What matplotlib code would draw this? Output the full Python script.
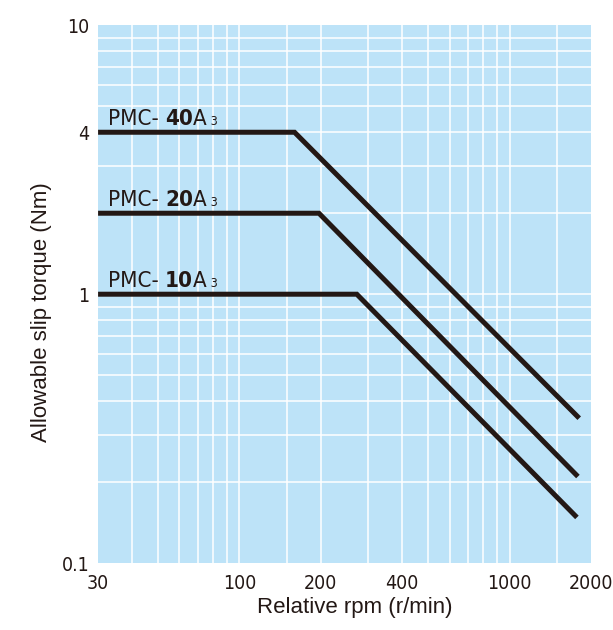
import matplotlib
matplotlib.use('Agg')
import matplotlib.pyplot as plt
from matplotlib.offsetbox import TextArea, HPacker, AnnotationBbox

# data
rpm_40 = [30, 160, 1810]
torque_40 = [4, 4, 0.346]
rpm_20 = [30, 197, 1790]
torque_20 = [2, 2, 0.21]
rpm_10 = [30, 272, 1775]
torque_10 = [1, 1, 0.148]

x_ticks = [30, 100, 200, 400, 1000, 2000]
x_labels = ['30', '100', '200', '400', '1000', '2000']
y_ticks = [0.1, 1, 4, 10]
y_labels = ['0.1', '1', '4', '10']

x_grid = [40, 50, 60, 70, 80, 90, 100, 150, 200, 300, 400, 500, 600, 700, 800, 900, 1000, 1500]
y_grid = [0.2, 0.3, 0.4, 0.5, 0.6, 0.7, 0.8, 0.9, 1, 2, 3, 4, 5, 6, 7, 8, 9]

narrow = ['DejaVu Sans']
ink = '#231815'
bg = '#bde3f8'

fig = plt.figure(figsize=(6.13, 6.30), dpi=100)
ax = fig.add_axes([0.160, 0.106, 0.804, 0.854])
ax.set_xscale('log')
ax.set_yscale('log')
ax.set_xlim(30, 2000)
ax.set_ylim(0.1, 10)
ax.set_facecolor(bg)
for s in ax.spines.values():
    s.set_visible(False)

for gx in x_grid:
    ax.axvline(gx, color='white', lw=1.1, zorder=1)
for gy in y_grid:
    ax.axhline(gy, color='white', lw=1.1, zorder=1)

for r, t in [(rpm_40, torque_40), (rpm_20, torque_20), (rpm_10, torque_10)]:
    ax.plot(r, t, color=ink, lw=3.6, solid_capstyle='butt', solid_joinstyle='miter', zorder=3)

ax.minorticks_off()
ax.set_xticks(x_ticks, x_labels)
ax.set_yticks(y_ticks, y_labels)
ax.tick_params(length=0, labelsize=14, labelcolor=ink)
ax.tick_params(axis='x', pad=8)
ax.tick_params(axis='y', pad=6)
for lab in ax.get_xticklabels() + ax.get_yticklabels():
    lab.set_family(narrow)
    lab.set_fontstretch('condensed')

ax.set_xlabel('Relative rpm (r/min)', fontsize=16, color=ink, family=['Liberation Sans', 'DejaVu Sans'])
ax.set_ylabel('Allowable slip torque (Nm)', fontsize=16, color=ink, family=['Liberation Sans', 'DejaVu Sans'])
ax.xaxis.set_label_coords(0.521, -0.063)
ax.yaxis.set_label_coords(-0.093, 0.467)


def series_label(code, y):
    tp = dict(fontsize=16, family=narrow, fontstretch='condensed', color=ink)
    parts = [
        TextArea('PMC- ', textprops=tp),
        TextArea(code, textprops=dict(tp, fontweight='bold')),
        TextArea('A', textprops=tp),
        TextArea(' 3', textprops=dict(tp, fontsize=9)),
    ]
    box = HPacker(children=parts, align='baseline', pad=0, sep=0)
    ab = AnnotationBbox(box, (32.6, y), xybox=(0, 2.5), xycoords='data',
                        boxcoords='offset points', box_alignment=(0, 0),
                        frameon=False, pad=0, zorder=4)
    ax.add_artist(ab)


series_label('40', torque_40[0])
series_label('20', torque_20[0])
series_label('10', torque_10[0])

fig.savefig('out.png', dpi=100)
